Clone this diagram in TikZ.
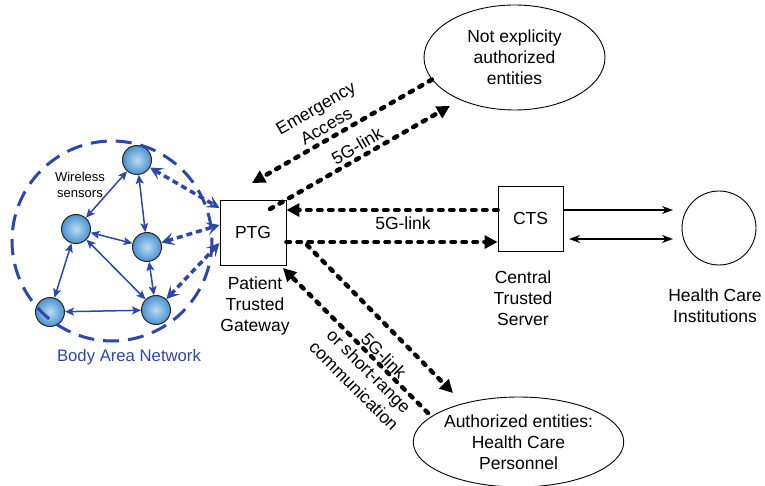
\documentclass[tikz,border=0pt]{standalone}
\usepackage{fontspec}
\setmainfont{Liberation Sans}
\usetikzlibrary{arrows.meta,shapes.geometric}
\definecolor{banblue}{RGB}{46,70,168}
\definecolor{ballin}{RGB}{185,220,245}
\definecolor{ballout}{RGB}{75,145,205}
\begin{document}
\begin{tikzpicture}[x=1pt,y=-1pt,
  every node/.style={font=\fontsize{17.5}{21}\selectfont, align=center, inner sep=0pt},
  boxnode/.style={draw, line width=0.9pt, fill=white},
  ellnode/.style={ellipse, draw, line width=0.9pt},
  sensor/.style={circle, minimum size=29pt, draw=black!85, line width=1pt, inner color=ballin, outer color=ballout},
  blink/.style={draw=banblue, line width=1.5pt, {Stealth[length=9pt,width=8pt,inset=2pt]}-{Stealth[length=9pt,width=8pt,inset=2pt]}},
  bdash/.style={draw=banblue, line width=3.5pt, dash pattern=on 6pt off 4pt,
     {Stealth[length=13pt,width=13pt,inset=6pt]}-{Stealth[length=13pt,width=13pt,inset=6pt]}},
  kdash/.style={line width=4.5pt, line cap=round, dash pattern=on 3.5pt off 7.5pt},
  ktip/.style={-{Triangle[length=13pt,width=13pt]}},
  solidarr/.style={line width=1.4pt}
]
\useasboundingbox (0,0) rectangle (765,486);

% body area network
\node[sensor] (s1) at (137,160) {};
\node[sensor] (s2) at (76,229) {};
\node[sensor] (s3) at (147,247) {};
\node[sensor] (s4) at (50,312) {};
\node[sensor] (s5) at (156,310) {};
\draw[blink] (s1) -- (s2);
\draw[blink] (s1) -- (s3);
\draw[blink] (s2) -- (s3);
\draw[blink] (s2) -- (s4);
\draw[blink] (s2) -- (s5);
\draw[blink] (s3) -- (s5);
\draw[blink] (s4) -- (s5);
\draw[draw=banblue, line width=3pt, dash pattern=on 16pt off 9pt] (112,241) circle[radius=100];
\node[font=\fontsize{13}{16}\selectfont] (ws) at (80,185) {Wireless\\sensors};
\node[text=banblue, font=\fontsize{16.7}{20}\selectfont] (ban) at (129,357) {Body Area Network};

% main nodes
\node[boxnode, minimum width=66pt, minimum height=65pt] (ptg) at (253,232.5) {PTG};
\node[boxnode, minimum width=65pt, minimum height=65pt] (cts) at (530.5,218.5) {CTS};
\node[circle, draw, line width=0.9pt, minimum size=74pt] (hci) at (719,228) {};
\node[ellnode, minimum width=181pt, minimum height=105pt] (ne) at (514.5,57.5) {Not explicity\\authorized\\entities};
\node[ellnode, minimum width=173pt, minimum height=90pt] (ae) at (518.5,442) {Authorized entities:\\Health Care\\Personnel};

\node (ptgl) at (255,306) {Patient\\Trusted\\Gateway};
\node (ctsl) at (523,298) {Central\\Trusted\\Server};
\node (hcil) at (715,305.5) {Health Care\\Institutions};

% blue dashed links
\draw[bdash] (s1) -- ([yshift=24.5pt]ptg.west);
\draw[bdash] (s3) -- ([yshift=7.5pt]ptg.west);
\draw[bdash] (s5) -- ([yshift=-10.5pt]ptg.west);

% black dashed links
\coordinate (ea) at (252,183);
\coordinate (b1) at (270,209);
\coordinate (b2) at (450,106);
\coordinate (e1) at (307,245);
\coordinate (e2) at (453,393);
\coordinate (f1) at (428,413);
\coordinate (f2) at (283,268);
\draw[kdash, ktip] (ne.195) -- (ea);
\draw[kdash, ktip] (b1) -- (b2);
\draw[kdash, ktip] ([yshift=8.5pt]cts.west) -- ([yshift=22.5pt]ptg.east);
\draw[kdash, ktip] ([yshift=-9.5pt]ptg.east) -- ([yshift=-23.5pt]cts.west);
\draw[kdash, ktip] (e1) -- (e2);
\draw[kdash, ktip] (f1) -- (f2);

\node[rotate=30] (lea) at (321,117) {Emergency\\Access};
\node[rotate=30] (l5a) at (357,146) {5G-link};
\node (l5b) at (403,223) {5G-link};
\node[rotate=-45] (l5c) at (369,371) {5G-link\\or short-range\\communication};

% CTS - HCI
\coordinate (h1) at (673,210);
\coordinate (h2) at (673,239);
\coordinate (c2) at (569,239);
\draw[solidarr, -{Stealth[length=11pt,width=8pt]}] ([yshift=8.5pt]cts.east) -- (h1);
\draw[solidarr, {Stealth[length=11pt,width=8pt]}-{Stealth[length=11pt,width=8pt]}] (c2) -- (h2);
\end{tikzpicture}
\end{document}
